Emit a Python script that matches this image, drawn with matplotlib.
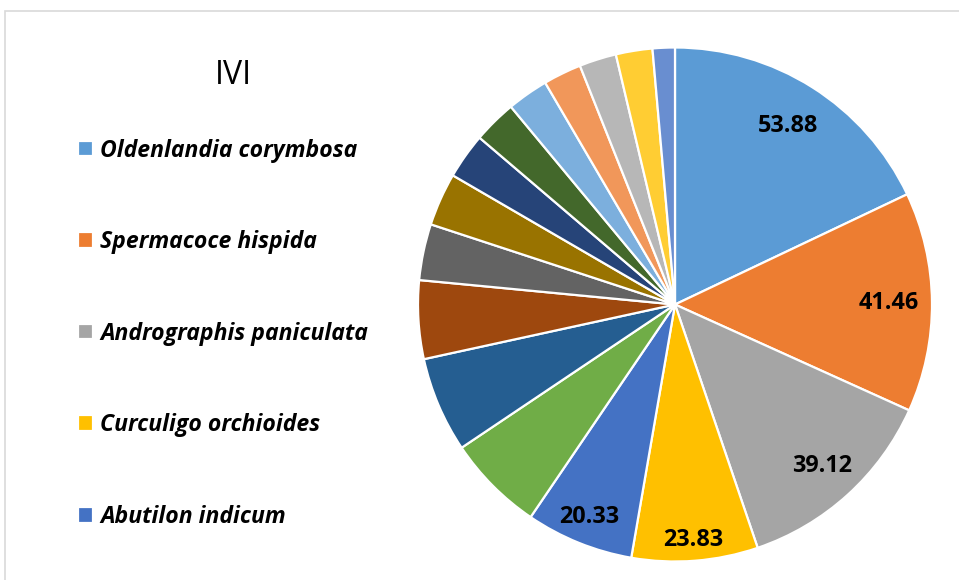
import numpy as np
import matplotlib
matplotlib.use('Agg')
import matplotlib.pyplot as plt
from matplotlib.patches import Rectangle

# IVI values (only the first five are labelled/named)
SPECIES = ['Oldenlandia corymbosa', 'Spermacoce hispida', 'Andrographis paniculata',
           'Curculigo orchioides', 'Abutilon indicum']
IVI = [53.88, 41.46, 39.12, 23.83, 20.33, 18.3, 18.0, 14.8, 10.6, 10.0,
       8.6, 8.2, 7.8, 7.2, 7.0, 6.9, 4.2]
SHOWN = ['53.88', '41.46', '39.12', '23.83', '20.33']

COLORS = ['#5B9BD5', '#ED7D31', '#A5A5A5', '#FFC000', '#4472C4', '#70AD47',
          '#255E91', '#9E480E', '#636363', '#997300', '#264478', '#43682B',
          '#7CAFDD', '#F1975A', '#B7B7B7', '#FFCD33', '#698ED0']

FONT = ['Open Sans', 'DejaVu Sans']
W, H = 959, 580
fig = plt.figure(figsize=(W / 100, H / 100), dpi=100)

# chart-area border (Excel style)
fig.patches.append(Rectangle((5 / W, -0.1), 1.1, (H - 11) / H + 0.1, transform=fig.transFigure,
                             fill=False, edgecolor='#D9D9D9', lw=1.2))

cx, cy, r = 675, 304.5, 257
ax = fig.add_axes([(cx - r) / W, (H - cy - r) / H, 2 * r / W, 2 * r / H])
wedges, _ = ax.pie(IVI, colors=COLORS, startangle=90, counterclock=False, radius=1,
                   wedgeprops=dict(edgecolor='white', linewidth=1.6))
ax.set_xlim(-1, 1); ax.set_ylim(-1, 1)
ax.set_aspect('equal'); ax.axis('off')

lab_r = [0.82, 0.83, 0.85, 0.92, 0.89]
for w, txt, rr in zip(wedges, SHOWN, lab_r):
    ang = np.deg2rad((w.theta1 + w.theta2) / 2)
    ax.text(rr * np.cos(ang), rr * np.sin(ang), txt, ha='center', va='center',
            fontsize=16.8, fontweight='bold', family=FONT, color='black')

fig.text(233 / W, 1 - 75 / H, 'IVI', ha='center', va='center', fontsize=23, family=FONT)

leg = fig.legend(wedges[:5], SPECIES, loc='upper left', bbox_to_anchor=(66 / W, 1 - 127 / H),
                 frameon=False, handlelength=0.68, handleheight=0.68, borderpad=0,
                 handletextpad=0.3, labelspacing=2.93,
                 prop=dict(family=FONT, size=16.6, weight='bold', style='italic'))

fig.savefig('out.png', dpi=100)
